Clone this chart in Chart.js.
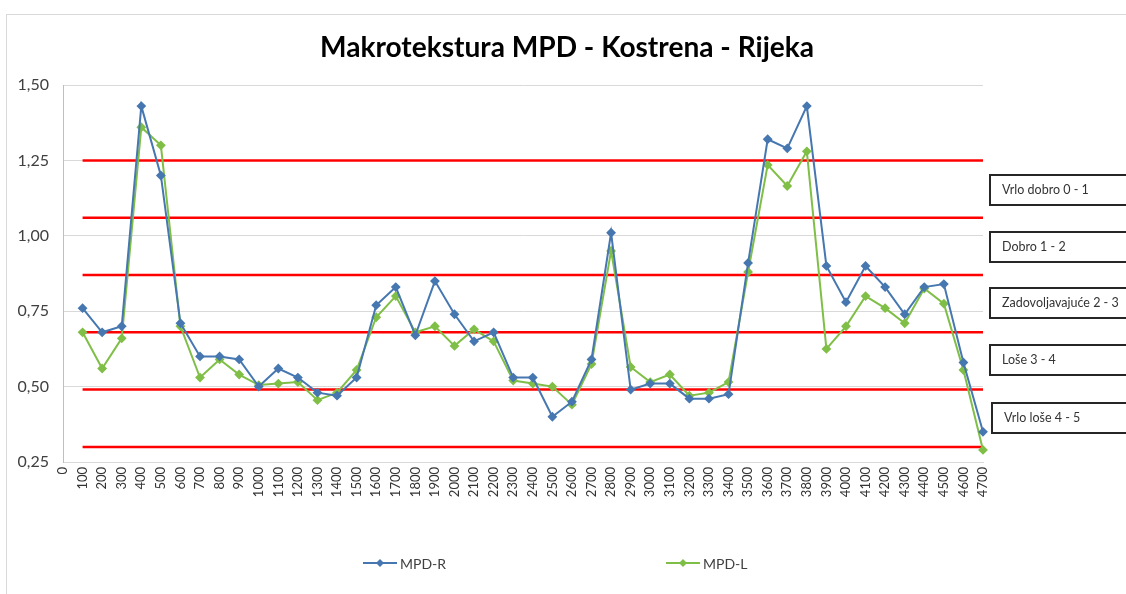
<!DOCTYPE html>
<html>
<head>
<meta charset="utf-8">
<script src="https://cdn.jsdelivr.net/npm/chart.js@4"></script>
<style>
  html, body { margin: 0; padding: 0; background: #fff; }
  canvas { display: block; }
</style>
</head>
<body>
<canvas id="mpdChart" width="1126" height="594"></canvas>
<script>
const chartTitle = "Makrotekstura MPD - Kostrena - Rijeka";

const stations = ["0", "100", "200", "300", "400", "500", "600", "700", "800", "900",
  "1000", "1100", "1200", "1300", "1400", "1500", "1600", "1700", "1800", "1900",
  "2000", "2100", "2200", "2300", "2400", "2500", "2600", "2700", "2800", "2900",
  "3000", "3100", "3200", "3300", "3400", "3500", "3600", "3700", "3800", "3900",
  "4000", "4100", "4200", "4300", "4400", "4500", "4600", "4700"];

// right side (MPD-R), no reading at 0
const mpdR = [null, 0.76, 0.68, 0.70, 1.43, 1.20, 0.71, 0.60, 0.60, 0.59,
  0.50, 0.56, 0.53, 0.48, 0.47, 0.53, 0.77, 0.83, 0.67, 0.85,
  0.74, 0.65, 0.68, 0.53, 0.53, 0.40, 0.45, 0.59, 1.01, 0.49,
  0.51, 0.51, 0.46, 0.46, 0.475, 0.91, 1.32, 1.29, 1.43, 0.90,
  0.78, 0.90, 0.83, 0.74, 0.83, 0.84, 0.58, 0.35];

// left side (MPD-L)
const mpdL = [null, 0.68, 0.56, 0.66, 1.36, 1.30, 0.70, 0.53, 0.59, 0.54,
  0.505, 0.51, 0.515, 0.455, 0.48, 0.555, 0.73, 0.80, 0.68, 0.70,
  0.635, 0.69, 0.65, 0.52, 0.51, 0.50, 0.44, 0.575, 0.95, 0.565,
  0.515, 0.54, 0.47, 0.48, 0.515, 0.88, 1.235, 1.165, 1.28, 0.625,
  0.70, 0.80, 0.76, 0.71, 0.825, 0.775, 0.555, 0.29];

// class limits (red lines) and the class labels on the right
const limits = [1.25, 1.06, 0.87, 0.68, 0.49, 0.30];
const classes = ["Vrlo dobro 0 - 1", "Dobro 1 - 2", "Zadovoljavajuće 2 - 3", "Loše 3 - 4", "Vrlo loše 4 - 5"];

const yTicks = [0.25, 0.50, 0.75, 1.00, 1.25, 1.50];

const blue = "#4677b0";
const green = "#80bf47";

function diamond(ctx, x, y, r, color) {
  ctx.fillStyle = color;
  ctx.beginPath();
  ctx.moveTo(x, y - r);
  ctx.lineTo(x + r, y);
  ctx.lineTo(x, y + r);
  ctx.lineTo(x - r, y);
  ctx.closePath();
  ctx.fill();
}

const extras = {
  id: "extras",
  beforeDatasetsDraw(chart) {
    const ctx = chart.ctx;
    const x = chart.scales.x, y = chart.scales.y;
    ctx.save();
    ctx.strokeStyle = "#ff0000";
    ctx.lineWidth = 2.5;
    limits.forEach(v => {
      const py = y.getPixelForValue(v);
      ctx.beginPath();
      ctx.moveTo(x.getPixelForValue(1), py);
      ctx.lineTo(x.getPixelForValue(stations.length - 1), py);
      ctx.stroke();
    });
    ctx.restore();
  },
  afterDraw(chart) {
    const ctx = chart.ctx;
    ctx.save();

    // outer frame
    ctx.strokeStyle = "#d9d9d9";
    ctx.lineWidth = 1;
    ctx.strokeRect(6.5, 14.5, 1200, 700);

    // title
    let size = 26;
    ctx.font = "bold " + size + "px Lato";
    const w = ctx.measureText(chartTitle).width;
    size = size * 495 / w;
    ctx.font = "bold " + size.toFixed(1) + "px Lato";
    ctx.fillStyle = "#000";
    ctx.textAlign = "center";
    ctx.textBaseline = "middle";
    ctx.fillText(chartTitle, 567, 48);

    // class boxes
    const boxTops = [175, 232, 288, 345, 403];
    ctx.font = "12.5px Lato";
    ctx.textAlign = "left";
    classes.forEach((c, i) => {
      const bx = i === 4 ? 992 : 990;
      ctx.fillStyle = "#fff";
      ctx.fillRect(bx, boxTops[i], 160, 30);
      ctx.strokeStyle = "#262626";
      ctx.lineWidth = 2;
      ctx.strokeRect(bx, boxTops[i], 160, 30);
      ctx.fillStyle = "#333";
      ctx.fillText(c, bx + 12, boxTops[i] + 15);
    });

    // legend
    const items = [
      { label: "MPD-R", color: blue, x: 363 },
      { label: "MPD-L", color: green, x: 666 }
    ];
    ctx.font = "14px Lato";
    items.forEach(it => {
      ctx.strokeStyle = it.color;
      ctx.lineWidth = 2;
      ctx.beginPath();
      ctx.moveTo(it.x, 563);
      ctx.lineTo(it.x + 34, 563);
      ctx.stroke();
      diamond(ctx, it.x + 17, 563, 4, it.color);
      ctx.fillStyle = "#404040";
      ctx.fillText(it.label, it.x + 37, 564);
    });

    ctx.restore();
  }
};

new Chart(document.getElementById("mpdChart"), {
  type: "line",
  data: {
    labels: stations,
    datasets: [
      {
        label: "MPD-R",
        data: mpdR,
        borderColor: blue,
        backgroundColor: blue,
        borderWidth: 2,
        pointStyle: "rectRot",
        pointRadius: 3.5,
        tension: 0
      },
      {
        label: "MPD-L",
        data: mpdL,
        borderColor: green,
        backgroundColor: green,
        borderWidth: 2,
        pointStyle: "rectRot",
        pointRadius: 3.5,
        tension: 0
      }
    ]
  },
  options: {
    responsive: false,
    animation: false,
    devicePixelRatio: 1,
    layout: { padding: { left: 0, top: 85, right: 143, bottom: 0 } },
    plugins: {
      legend: { display: false },
      title: { display: false },
      tooltip: { enabled: false }
    },
    scales: {
      x: {
        type: "category",
        offset: false,
        grid: { display: false, drawTicks: false },
        border: { color: "#d9d9d9" },
        ticks: {
          autoSkip: false,
          maxRotation: 90,
          minRotation: 90,
          padding: 5,
          color: "#333",
          font: { family: "Lato", size: 13 }
        },
        afterFit: s => { s.height = 132; }
      },
      y: {
        min: 0.25,
        max: 1.5,
        afterBuildTicks: s => { s.ticks = yTicks.map(v => ({ value: v })); },
        grid: { color: "#d9d9d9", drawTicks: false },
        border: { color: "#bfbfbf" },
        ticks: {
          padding: 14,
          color: "#404040",
          font: { family: "Lato", size: 16 },
          callback: v => v.toFixed(2).replace(".", ",")
        },
        afterFit: s => { s.width = 63; }
      }
    }
  },
  plugins: [extras]
});
</script>
</body>
</html>
